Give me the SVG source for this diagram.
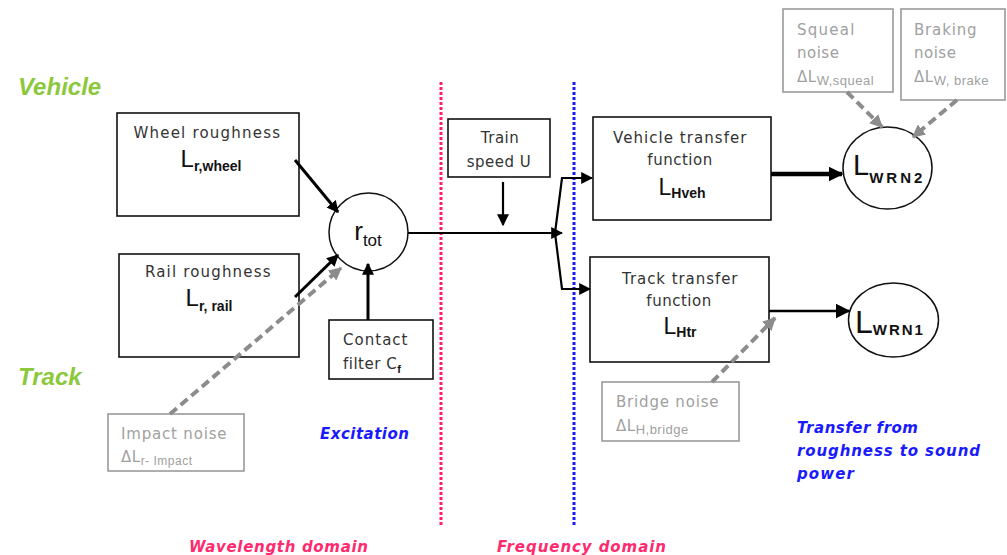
<svg xmlns="http://www.w3.org/2000/svg" width="1007" height="555" viewBox="0 0 1007 555">
<style>
.box{fill:#fff;stroke:#111;stroke-width:1.6}
.gbox{fill:#fff;stroke:#9a9a9a;stroke-width:1.6}
.circ{fill:#fff;stroke:#111;stroke-width:1.5}
.t{font-family:"DejaVu Sans",Verdana,sans-serif;font-size:15px;fill:#333;letter-spacing:0.5px}
.g{font-family:"DejaVu Sans",Verdana,sans-serif;font-size:15px;fill:#a0a0a0;letter-spacing:0.5px}
.big{font-family:"Liberation Sans",Arial,sans-serif;fill:#111}
.sub{font-family:"Liberation Sans",Arial,sans-serif;font-weight:bold;fill:#111}
.gsub{font-family:"Liberation Sans",Arial,sans-serif;fill:#a0a0a0}
.side{font-family:"Liberation Sans",Arial,sans-serif;font-weight:bold;font-style:italic;font-size:24px;fill:#8cc83c}
.blue{font-family:"DejaVu Sans",Verdana,sans-serif;font-weight:bold;font-style:italic;font-size:15px;fill:#1a1aff}
.pink{font-family:"DejaVu Sans",Verdana,sans-serif;font-weight:bold;font-style:italic;font-size:15px;fill:#ff2a6e}
.c{fill:none;stroke:#000}
.d{fill:none;stroke:#8c8c8c;stroke-width:4;stroke-dasharray:9 5}
</style>
<defs>
<marker id="ah" viewBox="0 0 10 10" refX="9" refY="5" markerWidth="12" markerHeight="12" markerUnits="userSpaceOnUse" orient="auto"><path d="M0,0 L10,5 L0,10 z" fill="#000"/></marker>
<marker id="ahb" viewBox="0 0 10 10" refX="9" refY="5" markerWidth="15" markerHeight="15" markerUnits="userSpaceOnUse" orient="auto"><path d="M0,0 L10,5 L0,10 z" fill="#000"/></marker>
<marker id="ahg" viewBox="0 0 10 10" refX="9" refY="5" markerWidth="13" markerHeight="13" markerUnits="userSpaceOnUse" orient="auto"><path d="M0,0 L10,5 L0,10 z" fill="#8c8c8c"/></marker>
</defs>
<rect width="1007" height="555" fill="#fff"/>

<g id="labels">
<text class="side" x="18" y="95">Vehicle</text>
<text class="side" x="18" y="385">Track</text>
<text class="blue" x="320" y="439" textLength="89">Excitation</text>
<text class="blue" x="797" y="433" textLength="121">Transfer from</text>
<text class="blue" x="797" y="456" textLength="183">roughness to sound</text>
<text class="blue" x="797" y="479" textLength="57">power</text>
<text class="pink" x="189" y="552" textLength="179">Wavelength domain</text>
<text class="pink" x="497" y="552" textLength="169">Frequency domain</text>
</g>

<g id="domain-lines">
<line x1="441" y1="82" x2="441" y2="526" stroke="#ff1f6a" stroke-width="3" stroke-dasharray="3 2"/>
<line x1="574" y1="82" x2="574" y2="526" stroke="#1a1aff" stroke-width="3" stroke-dasharray="3 2"/>
</g>

<g id="wheel">
<rect class="box" x="117" y="113" width="182" height="103"/>
<text class="t" x="207" y="138" text-anchor="middle" textLength="147">Wheel roughness</text>
<text x="211" y="167" text-anchor="middle"><tspan class="big" font-size="24">L</tspan><tspan class="sub" font-size="14" dy="4">r,wheel</tspan></text>
</g>

<g id="rail">
<rect class="box" x="119" y="254" width="180" height="103"/>
<text class="t" x="208" y="277" text-anchor="middle" textLength="126">Rail roughness</text>
<text x="209" y="306" text-anchor="middle"><tspan class="big" font-size="24">L</tspan><tspan class="sub" font-size="14" dy="5">r, rail</tspan></text>
</g>

<g id="contact">
<rect class="box" x="329" y="320" width="104" height="59"/>
<text class="t" x="343" y="345" textLength="65">Contact</text>
<text class="t" x="343" y="369">filter C<tspan class="sub" font-size="11" dy="4">f</tspan></text>
</g>

<g id="impact">
<rect class="gbox" x="108" y="414" width="136" height="57"/>
<text class="g" x="121" y="439" textLength="106">Impact noise</text>
<text class="g" x="121" y="462">ΔL<tspan class="gsub" font-size="12" dy="3">r- Impact</tspan></text>
</g>

<g id="rtot">
<ellipse class="circ" cx="368.5" cy="232" rx="39.5" ry="39"/>
<text x="368" y="240" text-anchor="middle"><tspan class="big" font-size="26" fill="#333">r</tspan><tspan class="big" font-size="17" fill="#333" dy="6">tot</tspan></text>
</g>

<g id="train">
<rect class="box" x="448" y="119" width="102" height="58"/>
<text class="t" x="500" y="143" text-anchor="middle">Train</text>
<text class="t" x="499" y="167" text-anchor="middle">speed U</text>
</g>

<g id="vehicle-tf">
<rect class="box" x="593" y="117" width="178" height="103"/>
<text class="t" x="680" y="143" text-anchor="middle" textLength="134">Vehicle transfer</text>
<text class="t" x="680" y="165" text-anchor="middle">function</text>
<text x="682" y="195" text-anchor="middle"><tspan class="big" font-size="23">L</tspan><tspan class="sub" font-size="14" dy="3">Hveh</tspan></text>
</g>

<g id="track-tf">
<rect class="box" x="590" y="257" width="179" height="105"/>
<text class="t" x="680" y="284" text-anchor="middle" textLength="116">Track transfer</text>
<text class="t" x="679" y="306" text-anchor="middle">function</text>
<text x="680" y="334" text-anchor="middle"><tspan class="big" font-size="23">L</tspan><tspan class="sub" font-size="14" dy="3">Htr</tspan></text>
</g>

<g id="wrn2">
<ellipse class="circ" cx="887.5" cy="168" rx="44.5" ry="41"/>
<text x="853" y="175"><tspan class="big" font-size="29">L</tspan><tspan class="sub" font-size="15" letter-spacing="3" dy="8">WRN2</tspan></text>
</g>

<g id="wrn1">
<ellipse class="circ" cx="893.5" cy="320" rx="45" ry="37"/>
<text x="855" y="333"><tspan class="big" font-size="32">L</tspan><tspan class="sub" font-size="15" letter-spacing="2" dy="2">WRN1</tspan></text>
</g>

<g id="squeal">
<rect class="gbox" x="783" y="9" width="110" height="83"/>
<text class="g" x="797" y="35" textLength="58">Squeal</text>
<text class="g" x="797" y="58">noise</text>
<text class="g" x="797" y="82">ΔL<tspan class="gsub" font-size="13" dy="3">W,squeal</tspan></text>
</g>

<g id="braking">
<rect class="gbox" x="901" y="9" width="104" height="91"/>
<text class="g" x="914" y="35" textLength="63">Braking</text>
<text class="g" x="914" y="58">noise</text>
<text class="g" x="914" y="82">ΔL<tspan class="gsub" font-size="13" dy="3">W, brake</tspan></text>
</g>

<g id="bridge">
<rect class="gbox" x="602" y="382" width="137" height="59"/>
<text class="g" x="616" y="407" textLength="103">Bridge noise</text>
<text class="g" x="616" y="431">ΔL<tspan class="gsub" font-size="13" dy="3">H,bridge</tspan></text>
</g>

<g id="connectors">
<line class="c" x1="295" y1="160" x2="338" y2="212" stroke-width="3" marker-end="url(#ah)"/>
<line class="c" x1="295" y1="297" x2="338" y2="255" stroke-width="3" marker-end="url(#ah)"/>
<line class="c" x1="368" y1="320" x2="368" y2="264" stroke-width="3" marker-end="url(#ah)"/>
<line class="d" x1="170" y1="414" x2="341" y2="268" marker-end="url(#ahg)"/>
<line class="c" x1="408" y1="233" x2="562" y2="233" stroke-width="2.2" marker-end="url(#ah)"/>
<line class="c" x1="503" y1="182" x2="503" y2="225" stroke-width="2.2" marker-end="url(#ah)"/>
<polyline class="c" points="555,233 562,178 592,178" stroke-width="2.2" marker-end="url(#ah)"/>
<polyline class="c" points="555,233 562,289 590,289" stroke-width="2.2" marker-end="url(#ah)"/>
<line class="c" x1="771" y1="174" x2="842" y2="174" stroke-width="4.5" marker-end="url(#ahb)"/>
<line class="c" x1="769" y1="311" x2="849" y2="311" stroke-width="2.5" marker-end="url(#ahb)"/>
<line class="d" x1="847" y1="92" x2="882" y2="127" marker-end="url(#ahg)"/>
<line class="d" x1="957" y1="100" x2="913" y2="137" marker-end="url(#ahg)"/>
<line class="d" x1="712" y1="382" x2="775" y2="318" marker-end="url(#ahg)"/>
</g>
</svg>
